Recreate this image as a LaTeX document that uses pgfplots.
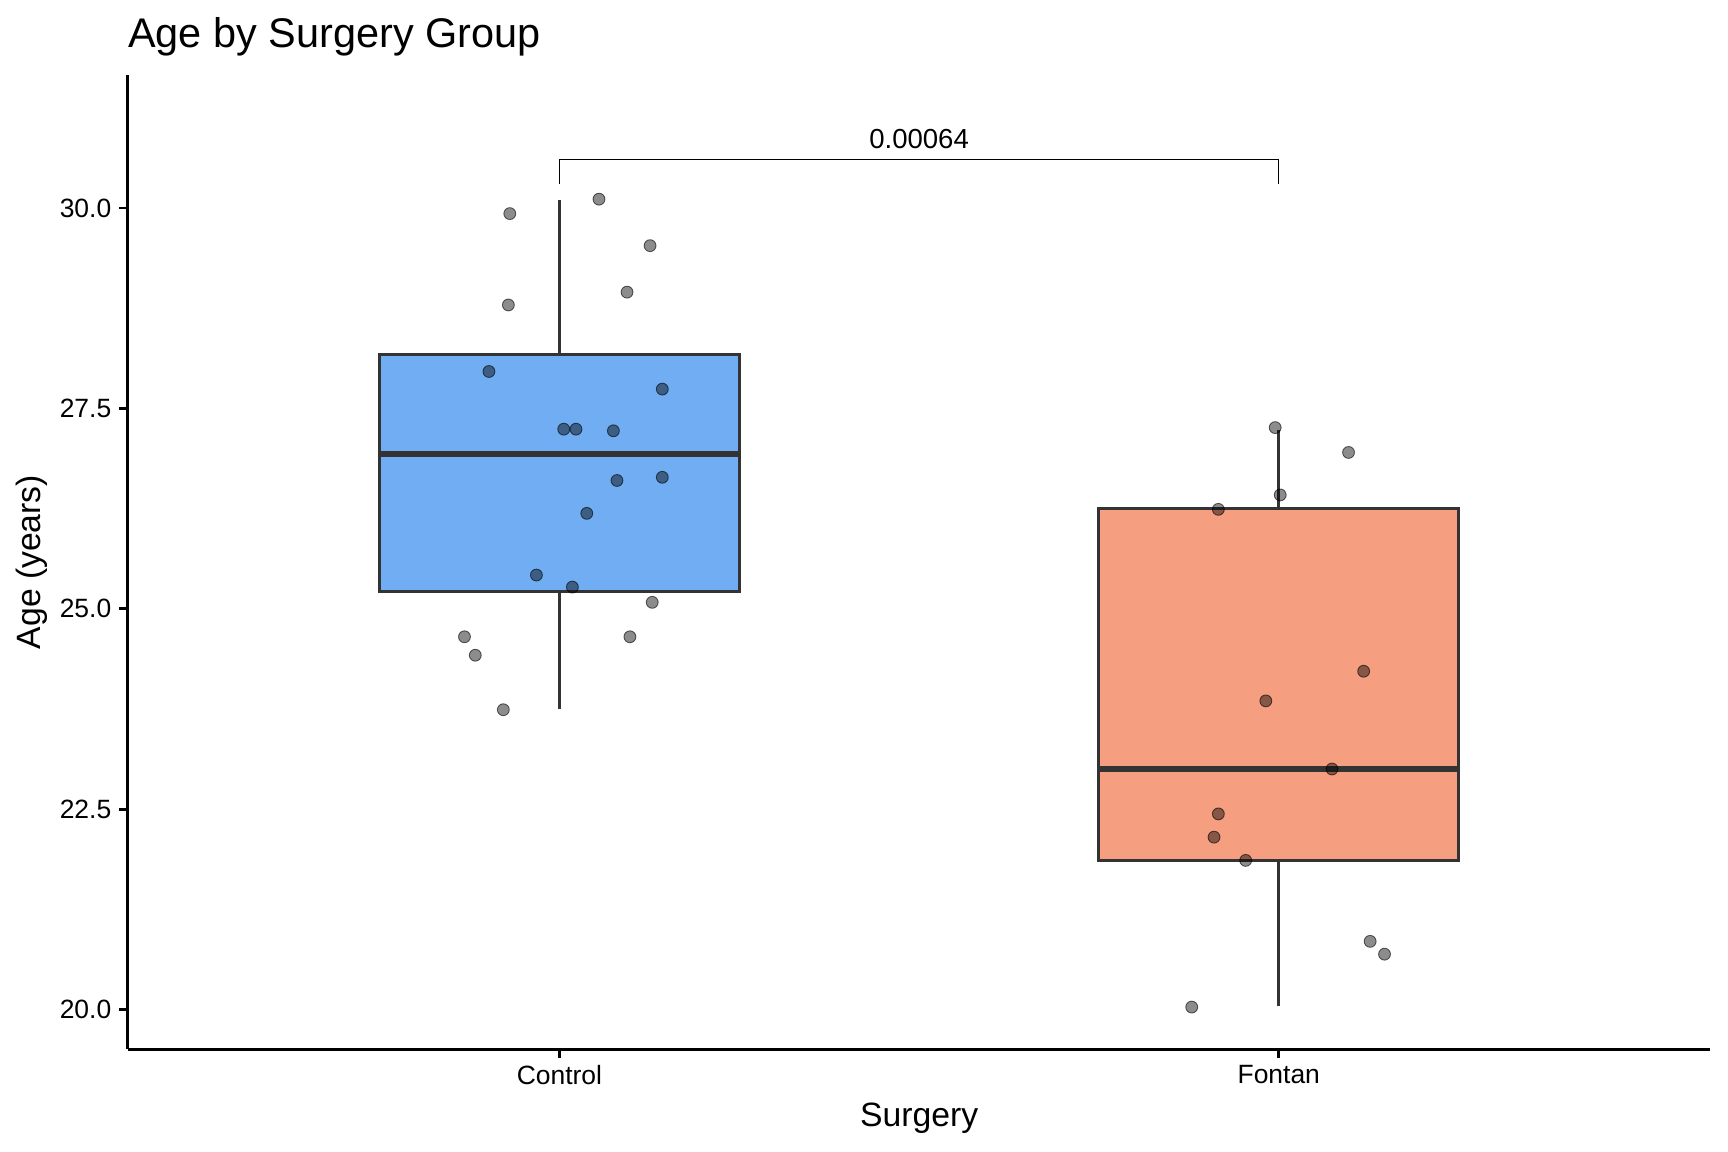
\documentclass[border=0pt]{standalone}
\usepackage{pgfplots}
\pgfplotsset{compat=1.18}
\usepackage{fontspec}
\setmainfont{Liberation Sans}
\definecolor{boxblue}{HTML}{70ADF2}
\definecolor{boxorange}{HTML}{F59E80}
\definecolor{boxline}{HTML}{333333}
\begin{document}
\begin{tikzpicture}
\path[use as bounding box] (-58pt,-46.5pt) rectangle (726pt,476pt);
\begin{axis}[
  at={(0,0)}, anchor=south west,
  scale only axis, width=718pt, height=442pt,
  xmin=0.4, xmax=2.6, ymin=19.505, ymax=31.66,
  axis lines=left,
  every outer x axis line/.style={line width=1.3pt, black},
  every outer y axis line/.style={line width=1.3pt, black},
  axis line style={-, line width=1.3pt, black},
  xtick={1,2}, xticklabels={Control,Fontan},
  ytick={20,22.5,25,27.5,30}, yticklabels={20.0,22.5,25.0,27.5,30.0},
  tick align=outside, major tick length=4pt,
  tick style={line width=1.3pt, black},
  ticklabel style={font=\fontsize{12}{14}\selectfont},
  xlabel={Surgery}, ylabel={Age (years)},
  label style={font=\fontsize{15.3}{18}\selectfont},
  xlabel style={at={(axis description cs:0.5,-0.0792)}, anchor=base},
  ylabel style={at={(axis description cs:-0.055,0.5)}, anchor=base},
]
% whiskers
\addplot[boxline, line width=1.3pt] coordinates {(1,23.755) (1,25.21)};
\addplot[boxline, line width=1.3pt] coordinates {(1,28.17) (1,30.10)};
\addplot[boxline, line width=1.3pt] coordinates {(2,20.04) (2,21.86)};
\addplot[boxline, line width=1.3pt] coordinates {(2,26.245) (2,27.235)};
% boxes
\addplot[fill=boxblue, draw=boxline, line width=1.35pt] coordinates {(0.75,25.21) (1.25,25.21) (1.25,28.17) (0.75,28.17)} -- cycle;
\addplot[fill=boxorange, draw=boxline, line width=1.35pt] coordinates {(1.75,21.86) (2.25,21.86) (2.25,26.245) (1.75,26.245)} -- cycle;
% medians
\addplot[boxline, line width=2.7pt] coordinates {(0.75,26.93) (1.25,26.93)};
\addplot[boxline, line width=2.7pt] coordinates {(1.75,23.00) (2.25,23.00)};
% jittered points
\addplot[only marks, mark=*, mark size=2.7pt, mark options={fill=black, fill opacity=0.45, draw=black, draw opacity=0.6, line width=0.4pt}] table {
x y
0.931 29.93
1.055 30.11
1.126 29.53
0.929 28.79
1.094 28.95
0.902 27.96
1.143 27.74
1.006 27.24
1.023 27.24
1.075 27.22
1.080 26.60
1.143 26.64
1.038 26.19
0.968 25.42
1.018 25.27
1.129 25.08
0.868 24.65
1.098 24.65
0.883 24.42
0.922 23.74
1.995 27.26
2.097 26.95
2.002 26.42
1.916 26.24
2.118 24.22
1.982 23.85
2.074 23.00
1.916 22.44
1.910 22.15
1.954 21.86
2.127 20.85
2.147 20.69
1.879 20.03
};
% significance bracket
\addplot[black, line width=0.6pt] coordinates {(1,30.30) (1,30.605) (2,30.605) (2,30.30)};
\node[anchor=base, font=\fontsize{12.5}{15}\selectfont] at (axis cs:1.5,30.74) {0.00064};
\end{axis}
\node[anchor=base west, font=\fontsize{18.8}{22}\selectfont, inner sep=0pt] at (0pt,454.5pt) {Age by Surgery Group};
\end{tikzpicture}
\end{document}
